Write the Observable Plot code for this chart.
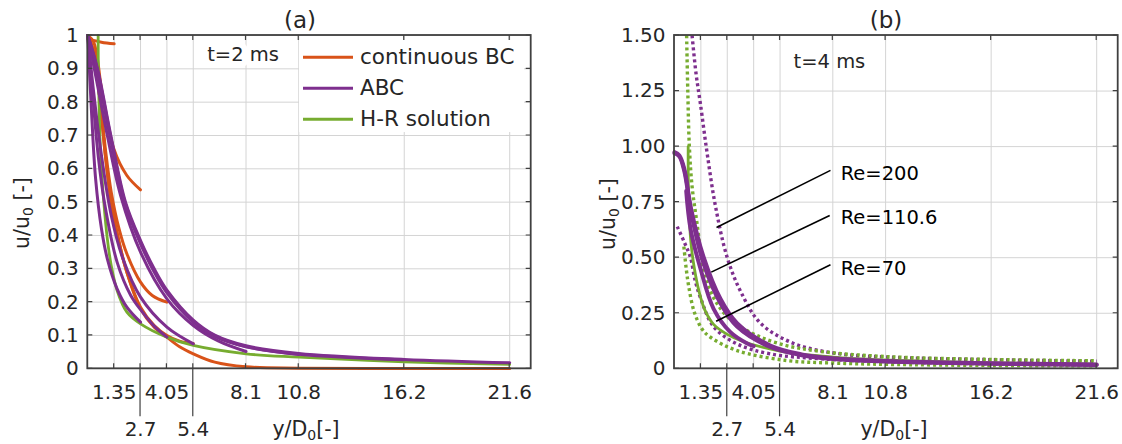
<!DOCTYPE html>
<html><head><meta charset="utf-8">
<script src="https://cdn.jsdelivr.net/npm/d3@7"></script>
<script src="https://cdn.jsdelivr.net/npm/@observablehq/plot@0.6"></script>
<style>
body{margin:0;background:#fff;}
#fig{position:relative;width:1122px;height:444px;overflow:hidden;background:#fff;}
#fig svg{position:absolute;top:0;}
</style></head><body><div id="fig"></div>
<script>
// ---------- axes / ticks ----------
const xDomain = [0, 22.7];
const xTicks = [1.35, 2.7, 4.05, 5.4, 8.1, 10.8, 16.2, 21.6];
const xTicksRow1 = [1.35, 4.05, 8.1, 10.8, 16.2, 21.6];
const xTicksRow2 = [2.7, 5.4];
const yTicksA = [0, 0.1, 0.2, 0.3, 0.4, 0.5, 0.6, 0.7, 0.8, 0.9, 1];
const yTicksB = [0, 0.25, 0.5, 0.75, 1, 1.25, 1.5];
const colors = {cbc: "#D95319", abc: "#7E2F8E", hr: "#77AC30"};
const legendNames = ["continuous BC", "ABC", "H-R solution"];
const legendKeys = ["cbc", "abc", "hr"];

// ---------- panel (a), t = 2 ms ----------
const a_cbc_135 = [[0,0.99],[0.7,0.98],[1.35,0.975]];
const a_cbc_27  = [[0,1],[0.3,0.98],[0.75,0.82],[1.33,0.66],[2.0,0.58],[2.7,0.537]];
const a_cbc_405 = [[0,1],[0.3,0.95],[0.6,0.83],[0.9,0.66],[1.2,0.53],[1.6,0.42],[2.0,0.345],[2.7,0.26],[3.3,0.22],[4.05,0.2]];
const a_cbc_54  = [[0,1],[0.3,0.95],[0.6,0.82],[0.9,0.64],[1.2,0.5],[1.6,0.38],[2.0,0.29],[2.7,0.185],[3.4,0.13],[4.05,0.1],[4.7,0.083],[5.4,0.076]];
const a_cbc_216 = [[0,1],[0.3,0.95],[0.6,0.82],[0.9,0.64],[1.2,0.5],[1.6,0.38],[2.0,0.29],[2.7,0.18],[3.4,0.125],[4.05,0.095],[4.7,0.066],[5.4,0.045],[6.5,0.02],[8.1,0.006],[10.8,0.002],[16.2,0.001],[21.6,0.001]];

const a_abc_27  = [[0,1],[0.2,0.76],[0.4,0.57],[0.7,0.42],[1.0,0.33],[1.5,0.24],[2.0,0.185],[2.7,0.14]];
const a_abc_405 = [[0,1],[0.25,0.82],[0.55,0.63],[0.85,0.5],[1.5,0.32],[2.2,0.22],[2.8,0.17],[3.4,0.128],[4.05,0.095]];
const a_abc_54  = [[0,1],[0.3,0.83],[0.7,0.64],[1.2,0.46],[1.8,0.33],[2.7,0.215],[4.05,0.125],[5.4,0.075]];
const a_abc_81  = [[0,1],[0.4,0.88],[1.0,0.7],[1.68,0.52],[2.7,0.35],[4.05,0.21],[5.4,0.13],[6.7,0.083],[8.1,0.052]];
const a_abc_108 = [[0,1],[0.48,0.9],[1.16,0.7],[1.9,0.5],[2.7,0.38],[3.4,0.295],[4.05,0.232],[5.4,0.143],[6.5,0.099],[8.1,0.067],[10.8,0.043]];
const a_abc_162 = [[0,1],[0.46,0.9],[1.13,0.7],[1.87,0.5],[2.7,0.375],[3.4,0.29],[4.05,0.228],[5.4,0.14],[6.5,0.097],[8.1,0.066],[10.8,0.044],[16.2,0.027]];
const a_abc_216 = [[0,1],[0.5,0.9],[1.18,0.7],[1.93,0.5],[2.7,0.385],[3.4,0.3],[4.05,0.236],[5.4,0.146],[6.5,0.101],[8.1,0.069],[10.8,0.046],[16.2,0.028],[21.6,0.018]];

const a_hr = [[0.53,1],[0.54,0.9],[0.58,0.78],[0.66,0.64],[0.82,0.5],[1.0,0.39],[1.2,0.31],[1.5,0.235],[2.0,0.17],[2.7,0.135],[4.05,0.095],[5.4,0.07],[8.1,0.045],[10.8,0.035],[16.2,0.021],[21.6,0.013]];

// ---------- panel (b), t = 4 ms ----------
const b_abc_1106_a = [[0,0.975],[0.25,0.96],[0.5,0.9],[0.85,0.72],[1.5,0.5],[2.35,0.315],[3.2,0.205],[4.9,0.105],[6.5,0.065],[8.1,0.047],[10.8,0.035],[16.2,0.025],[21.6,0.019]];
const b_abc_1106_b = [[0,0.97],[0.25,0.955],[0.5,0.89],[0.88,0.69],[1.5,0.47],[2.35,0.295],[3.2,0.19],[4.9,0.098],[6.5,0.061],[8.1,0.044],[10.8,0.033],[16.2,0.023],[21.6,0.017]];
const b_abc_1106_c = [[0.6,0.8],[0.82,0.63],[1.33,0.45],[2.0,0.27],[2.86,0.165],[3.7,0.115],[4.05,0.102]];
const b_hr_1106    = [[0.7,1.0],[0.7,0.9],[0.72,0.78],[0.77,0.66],[0.85,0.56],[1.02,0.45],[1.25,0.35],[1.55,0.265],[2.0,0.2],[2.7,0.155],[3.5,0.123],[5.4,0.08],[8.1,0.053],[10.8,0.04],[16.2,0.027],[21.6,0.021]];
const b_abc_200 = [[0.9,1.5],[1.1,1.33],[1.33,1.19],[1.67,0.97],[2.1,0.73],[2.7,0.5],[3.4,0.345],[4.4,0.205],[6.1,0.114],[8.3,0.069],[10.8,0.053],[16.2,0.041],[21.6,0.034]];
const b_hr_200  = [[0.62,1.5],[0.68,1.25],[0.76,1.0],[0.9,0.82],[1.16,0.65],[1.5,0.44],[2.0,0.32],[2.7,0.235],[3.7,0.172],[5.4,0.112],[7.5,0.078],[10.8,0.055],[16.2,0.042],[21.6,0.036]];
const b_abc_70  = [[0.14,0.64],[0.5,0.57],[0.82,0.5],[1.05,0.4],[1.33,0.32],[2.0,0.19],[3.2,0.112],[4.9,0.067],[7.5,0.045],[10.8,0.032],[16.2,0.022],[21.6,0.017]];
const b_hr_70   = [[0.48,0.55],[0.6,0.45],[0.73,0.37],[0.99,0.262],[1.4,0.18],[1.84,0.142],[3.2,0.082],[5.76,0.037],[8.1,0.026],[10.8,0.02],[16.2,0.015],[21.6,0.013]];

// ---------- annotations ----------
const noteA = [{text: "t=2 ms", x: 6.11, y: 0.923}];
const noteB = [{text: "t=4 ms", x: 6.09, y: 1.355}];
const reLabels = [{text: "Re=200", x: 8.5, y: 0.851}, {text: "Re=110.6", x: 8.5, y: 0.6525}, {text: "Re=70", x: 8.5, y: 0.42}];
const reLeaders = [
  {x1: 7.98, y1: 0.893, x2: 2.15, y2: 0.636},
  {x1: 7.94, y1: 0.690, x2: 1.88, y2: 0.435},
  {x1: 7.98, y1: 0.468, x2: 2.13, y2: 0.214}
];

// ---------- build tables ----------
function table(list) {
  return list.flatMap(s => s.pts.map(([x, y]) => ({id: s.id, kind: s.kind, dotted: !!s.dotted, x, y})));
}
const rowsA = table([
  {id: "c135", kind: "cbc", pts: a_cbc_135}, {id: "c27", kind: "cbc", pts: a_cbc_27},
  {id: "c405", kind: "cbc", pts: a_cbc_405}, {id: "c54", kind: "cbc", pts: a_cbc_54},
  {id: "c216", kind: "cbc", pts: a_cbc_216},
  {id: "a27", kind: "abc", pts: a_abc_27}, {id: "a405", kind: "abc", pts: a_abc_405},
  {id: "a54", kind: "abc", pts: a_abc_54}, {id: "a81", kind: "abc", pts: a_abc_81},
  {id: "a108", kind: "abc", pts: a_abc_108}, {id: "a162", kind: "abc", pts: a_abc_162},
  {id: "a216", kind: "abc", pts: a_abc_216},
  {id: "hr", kind: "hr", pts: a_hr}
]);
const rowsB = table([
  {id: "d200a", kind: "abc", dotted: true, pts: b_abc_200}, {id: "d200h", kind: "hr", dotted: true, pts: b_hr_200},
  {id: "d70a", kind: "abc", dotted: true, pts: b_abc_70}, {id: "d70h", kind: "hr", dotted: true, pts: b_hr_70},
  {id: "shr", kind: "hr", pts: b_hr_1106},
  {id: "sa", kind: "abc", pts: b_abc_1106_a}, {id: "sb", kind: "abc", pts: b_abc_1106_b}, {id: "sc", kind: "abc", pts: b_abc_1106_c}
]);

const FONT = "'DejaVu Sans', sans-serif";
const TXT = "#262626";
const TICKFS = 20;

function boxMark(yTicks) {
  return (index, scales, values, dims) => {
    const x = scales.x, y = scales.y;
    const x0 = dims.marginLeft, x1 = dims.width - dims.marginRight;
    const y0 = dims.marginTop, y1 = dims.height - dims.marginBottom;
    const g = d3.create("svg:g").attr("fill", "none").attr("stroke", "#404040");
    let d = "";
    for (const t of xTicks) { const p = x(t); d += `M${p},${y1}v-5M${p},${y0}v5`; }
    for (const t of yTicks) { const p = y(t); d += `M${x0},${p}h5M${x1},${p}h-5`; }
    g.append("path").attr("d", d).attr("stroke-width", 1.2);
    let dl = "";
    for (const t of xTicksRow2) dl += `M${x(t)},${y1}V${y1 + 48}`;
    g.append("path").attr("d", dl).attr("stroke-width", 1.2);
    g.append("rect").attr("x", x0).attr("y", y0).attr("width", x1 - x0).attr("height", y1 - y0).attr("stroke-width", 1.8);
    return g.node();
  };
}

function curves(rows, solidW) {
  const marks = [];
  for (const kind of ["cbc", "abc", "hr"]) {
    const dotted = rows.filter(d => d.kind === kind && d.dotted);
    if (dotted.length) marks.push(Plot.line(dotted, {x: "x", y: "y", z: "id", stroke: colors[kind], strokeWidth: 3.4, strokeDasharray: "3,3", strokeLinecap: "butt", curve: "catmull-rom"}));
  }
  for (const kind of ["cbc", "hr", "abc"]) {
    const solid = rows.filter(d => d.kind === kind && !d.dotted);
    if (solid.length) marks.push(Plot.line(solid, {x: "x", y: "y", z: "id", stroke: colors[kind], strokeWidth: kind === "hr" ? 2.8 : solidW, curve: "catmull-rom"}));
  }
  return marks;
}

function panel({rows, yDomain, yTicks, yFormat, marginLeft, marginRight, extra, solidW}) {
  return Plot.plot({
    width: 561, height: 444,
    marginLeft, marginRight, marginTop: 35, marginBottom: 444 - 368.3,
    style: {fontFamily: FONT, fontSize: TICKFS + "px", color: TXT, background: "transparent", overflow: "visible"},
    x: {domain: xDomain, label: null},
    y: {domain: yDomain, label: null},
    marks: [
      Plot.gridX(xTicks, {stroke: "#d4d4d4", strokeOpacity: 1, strokeWidth: 1}),
      Plot.gridY(yTicks, {stroke: "#d4d4d4", strokeOpacity: 1, strokeWidth: 1}),
      ...curves(rows, solidW),
      ...extra,
      Plot.axisX(xTicksRow1, {tickSize: 0, tickPadding: 16, label: null, tickFormat: d => String(d), fontSize: TICKFS, fill: TXT}),
      Plot.axisX(xTicksRow2, {tickSize: 0, tickPadding: 53, label: null, tickFormat: d => String(d), fontSize: TICKFS, fill: TXT}),
      Plot.axisY(yTicks, {tickSize: 0, tickPadding: 9, label: null, tickFormat: yFormat, fontSize: TICKFS, fill: TXT}),
      boxMark(yTicks)
    ]
  });
}

const fig = document.getElementById("fig");

const plotA = panel({
  rows: rowsA, yDomain: [0, 1], yTicks: yTicksA, yFormat: d => String(d),
  marginLeft: 87.3, marginRight: 561 - 530.7, solidW: 3,
  extra: [
    Plot.text(noteA, {x: "x", y: "y", text: "text", textAnchor: "start", lineAnchor: "bottom", fontSize: 19.5, fill: TXT, stroke: "white", strokeWidth: 12, paintOrder: "stroke"})
  ]
});
plotA.style.left = "0px";
fig.appendChild(plotA);

const plotB = panel({
  rows: rowsB, yDomain: [0, 1.5], yTicks: yTicksB, yFormat: d => d === 0 ? "0" : d.toFixed(2),
  marginLeft: 674 - 561, marginRight: 561 - (1117.7 - 561), solidW: 4,
  extra: [
    Plot.text(noteB, {x: "x", y: "y", text: "text", textAnchor: "start", lineAnchor: "bottom", fontSize: 19.5, fill: TXT}),
    Plot.link(reLeaders, {x1: "x1", y1: "y1", x2: "x2", y2: "y2", stroke: "#000", strokeWidth: 1.6}),
    Plot.text(reLabels, {x: "x", y: "y", text: "text", textAnchor: "start", lineAnchor: "bottom", fontSize: 19.5, fill: "#000"})
  ]
});
plotB.style.left = "561px";
fig.appendChild(plotB);

// ---------- overlay: titles, axis labels, legend ----------
const ov = d3.select(fig).append("svg").attr("width", 1122).attr("height", 444)
  .style("left", "0px").style("font-family", FONT).style("pointer-events", "none");
ov.append("text").attr("x", 300).attr("y", 28).attr("text-anchor", "middle").attr("font-size", 23).attr("fill", TXT).text("(a)");
ov.append("text").attr("x", 886).attr("y", 28).attr("text-anchor", "middle").attr("font-size", 23).attr("fill", TXT).text("(b)");

function yLabel(x, y) {
  const t = ov.append("text").attr("transform", `translate(${x},${y}) rotate(-90)`).attr("text-anchor", "middle").attr("font-size", 20.5).attr("fill", TXT);
  t.append("tspan").text("u/u");
  t.append("tspan").attr("font-size", 14).attr("dy", 4).text("0");
  t.append("tspan").attr("dy", -4).text(" [-]");
}
function xLabel(x, y) {
  const t = ov.append("text").attr("x", x).attr("y", y).attr("text-anchor", "middle").attr("font-size", 20.5).attr("fill", TXT);
  t.append("tspan").text("y/D");
  t.append("tspan").attr("font-size", 14).attr("dy", 4).text("0");
  t.append("tspan").attr("dy", -4).text("[-]");
}
yLabel(29, 213);
yLabel(615, 214);
xLabel(306, 436);
xLabel(894, 436);

// legend (panel a)
const lg = ov.append("g");
lg.append("rect").attr("x", 299).attr("y", 40).attr("width", 225).attr("height", 92).attr("fill", "white");
legendKeys.forEach((k, i) => {
  const yy = 57.3 + i * 31;
  lg.append("line").attr("x1", 303).attr("x2", 353).attr("y1", yy).attr("y2", yy).attr("stroke", colors[k]).attr("stroke-width", 3);
  lg.append("text").attr("x", 360).attr("y", yy + 7).attr("font-size", 21.5).attr("fill", TXT).text(legendNames[i]);
});
</script></body></html>
